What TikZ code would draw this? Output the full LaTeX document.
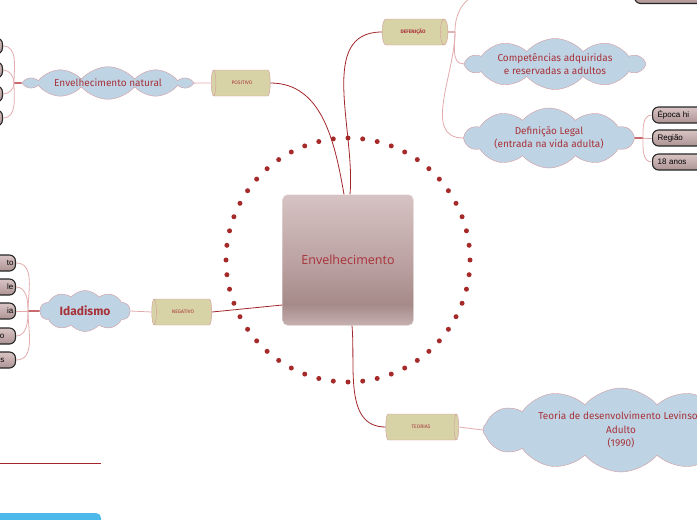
\documentclass[tikz,border=0pt]{standalone}
\usepackage{fontspec}
\setmainfont{Fira Sans}
\newfontfamily\rootfont{Open Sans}
\newfontfamily\leaffont{Liberation Sans}
\usepackage{xcolor}
\usepackage{tikz}
\usetikzlibrary{shapes.geometric,shapes.symbols,calc}

\definecolor{linkred}{HTML}{A3262B}
\definecolor{txtred}{HTML}{A8323A}
\definecolor{twigpink}{HTML}{E2ABAD}
\definecolor{stubred}{HTML}{C86A6E}
\definecolor{cloudblue}{HTML}{BED4E4}
\definecolor{cloudedge}{HTML}{D49AA0}
\definecolor{khaki}{HTML}{D7D3A6}
\definecolor{dotred}{HTML}{A52A2A}
\definecolor{barblue}{HTML}{4DB9EA}
\definecolor{leaftop}{HTML}{D9C4C4}
\definecolor{leaflow}{HTML}{AE9494}
\definecolor{roottop}{HTML}{D6C3C3}
\definecolor{rootmid}{HTML}{BDA3A3}
\definecolor{rootdark}{HTML}{A68A8A}
\definecolor{rootlow}{HTML}{C7B1B1}
\pgfdeclareverticalshading{rootshade}{100bp}{color(0bp)=(rootlow); color(25bp)=(rootlow);
  color(33bp)=(rootdark); color(50bp)=(rootmid); color(75bp)=(roottop); color(100bp)=(roottop)}

\begin{document}
\begin{tikzpicture}[x=1pt, y=-1pt,
  root/.style={rounded corners=5pt, shading=rootshade, draw=white!85!rootlow,
    minimum width=131, minimum height=131, text=txtred,
    font=\rootfont\fontsize{12.5}{14}\selectfont},
  topic/.style={cylinder, draw=cloudedge, fill=khaki, aspect=1.3, inner sep=0pt,
    minimum width=26, text=txtred, font=\fontsize{5}{6}\selectfont},
  bubble/.style={cloud, cloud puffs=10, cloud puff arc=100, cloud ignores aspect,
    draw=cloudedge, fill=cloudblue, inner sep=0pt, align=center, text=txtred,
    font=\fontsize{10}{12.5}\selectfont},
  leaf/.style={draw=black!85, line width=1.1pt, rounded corners=6pt,
    top color=leaftop, bottom color=leaflow, minimum height=16, inner xsep=2pt,
    inner ysep=0pt, font=\leaffont\fontsize{8}{9}\selectfont},
  leafE/.style={leaf, anchor=east, text width=70, align=right},
  leafW/.style={leaf, anchor=west, text width=70, align=left, inner xsep=5pt},
  link/.style={linkred, line width=0.8pt},
  twig/.style={twigpink, line width=0.8pt},
  stub/.style={stubred, line width=1.8pt},
]
\useasboundingbox (0,0) rectangle (697,520);
\clip (0,0) rectangle (697,520);

% anel pontilhado
\coordinate (ring) at (348,260);
\foreach \i in {0,...,51}
  \fill[dotred] ($(ring)+({\i/52*360}:122)$) circle (2.5);

\node[root] (env) at (348,260) {Envelhecimento};

\node[topic, shape border rotate=180, minimum height=59] (pos) at (242,83) {POSITIVO};
\node[topic, minimum height=66] (def) at (413,32) {\textbf{DEFENIÇÃO}};
\node[topic, shape border rotate=180, minimum height=60] (neg) at (183,312) {NEGATIVO};
\node[topic, minimum height=73] (teo) at (421,427) {TEORIAS};

\node[bubble, minimum width=165, minimum height=31] (nat) at (108,83) {Envelhecimento natural};
\node[bubble, minimum width=177, minimum height=48] (comp) at (555,64)
  {Competências adquiridas\\e reservadas a adultos};
\node[bubble, minimum width=168, minimum height=60] (leg) at (549,138)
  {Definição Legal\\(entrada na vida adulta)};
\node[bubble, minimum width=90, minimum height=41, font=\fontsize{12}{14}\selectfont\bfseries] (ida) at (85,311) {Idadismo};
\node[bubble, cloud puffs=12, minimum width=276, minimum height=84,
  font=\fontsize{10}{13.5}\selectfont] (lev) at (621,430)
  {Teoria de desenvolvimento Levinson\\Adulto\\(1990)};

% folhas
\node[leafE] (n1) at (3,46) {};
\node[leafE] (n2) at (3,70) {};
\node[leafE] (n3) at (3,94) {};
\node[leafE] (n4) at (3,118) {};

\node[leafE] (i1) at (16,263) {to};
\node[leafE] (i2) at (16,287) {le};
\node[leafE] (i3) at (16,311) {ia};
\node[leafE, text width=52, minimum width=74] (i4) at (16,336) {o};
\node[leafE, text width=52, minimum width=74] (i5) at (16,360) {s};

\node[leafW] (l1) at (652,115) {Época hi};
\node[leafW] (l2) at (652,138) {Região};
\node[leafW] (l3) at (652,162) {18 anos};
\node[leaf, anchor=south west, minimum width=70] (top) at (634,4) {};

% ligações do centro
\draw[link] ($(env.north)+(-4,0)$) to[out=100, in=0] (pos.east);
\draw[link] ($(env.north)+(2,0)$) to[out=85, in=180] (def.west);
\draw[link] ($(env.west)+(0,45)$) -- (neg.east);
\draw[link] ($(env.south)+(4,0)$) to[out=-85, in=180] (teo.west);

\draw[twig] (pos.west) -- (nat.east);
\draw[twig] (neg.west) -- (ida.east);
\draw[twig] (teo.east) -- (lev.west);

\coordinate (dfork) at (455,32);
\draw[link] (def.east) -- (dfork);
\draw[twig] (dfork) to[out=90, in=180] (top.west);
\draw[twig] (dfork) to[out=-90, in=180] (comp.west);
\draw[twig] (dfork) to[out=-90, in=180] (leg.west);

\coordinate (nfork) at (14,83);
\draw[stub] (nat.west) -- (nfork);
\draw[twig] (nfork) to[out=90, in=0] (n1.east);
\draw[twig] (nfork) to[out=90, in=0] (n2.east);
\draw[twig] (nfork) to[out=-90, in=0] (n3.east);
\draw[twig] (nfork) to[out=-90, in=0] (n4.east);

\coordinate (ifork) at (28,311);
\draw[stub] (ida.west) -- (ifork);
\draw[twig] (ifork) to[out=90, in=0] (i1.east);
\draw[twig] (ifork) to[out=90, in=0] (i2.east);
\draw[twig] (ifork) -- (i3.east);
\draw[twig] (ifork) to[out=-90, in=0] (i4.east);
\draw[twig] (ifork) to[out=-90, in=0] (i5.east);

\coordinate (lfork) at (643,138);
\draw[stub] (leg.east) -- (lfork);
\draw[twig] (lfork) to[out=90, in=180] (l1.west);
\draw[twig] (lfork) -- (l2.west);
\draw[twig] (lfork) to[out=-90, in=180] (l3.west);

% rodapé
\draw[linkred, line width=1pt] (0,463) -- (101,463);
\fill[barblue, rounded corners=5pt] (-10,513) rectangle (101,540);
\end{tikzpicture}
\end{document}
